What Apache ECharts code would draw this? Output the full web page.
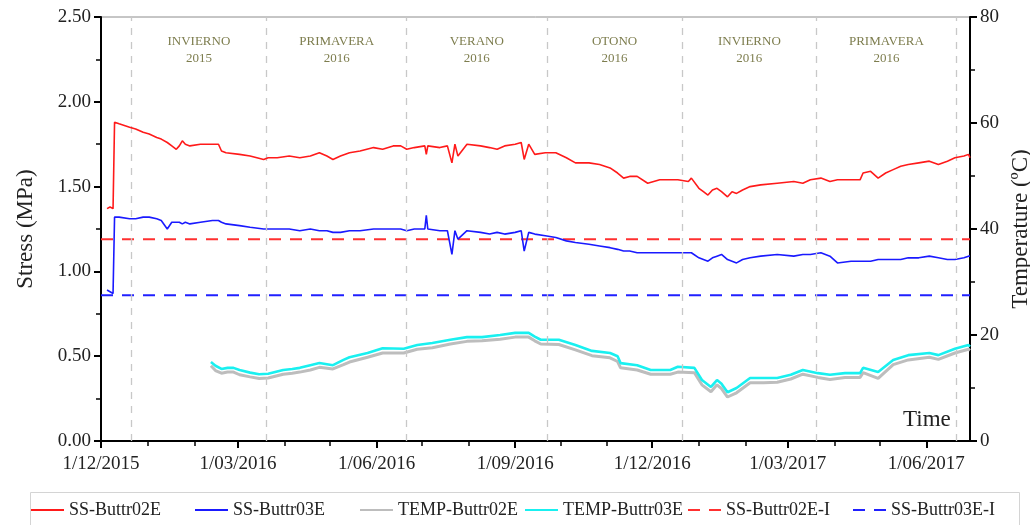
<!DOCTYPE html>
<html>
<head>
    <meta charset="utf-8">
    <title>Stress / Temperature</title>
    <script src="https://cdn.jsdelivr.net/npm/echarts@6/dist/echarts.min.js"></script>
    <style>
        html, body { margin: 0; padding: 0; background: #fff; }
        #chart { width: 1030px; height: 525px; }
    </style>
</head>
<body>
    <div id="chart"></div>

    <script>
    // fechas de las series de tension
    const stressDates = [
        '2015-12-05','2015-12-07','2015-12-09','2015-12-10','2015-12-13','2015-12-20','2015-12-24','2015-12-29',
        '2016-01-02','2016-01-07','2016-01-10','2016-01-14','2016-01-17','2016-01-20','2016-01-22','2016-01-24','2016-01-26','2016-01-29',
        '2016-02-05','2016-02-13','2016-02-17','2016-02-19','2016-02-22',
        '2016-03-02','2016-03-09','2016-03-18','2016-03-21','2016-03-27',
        '2016-04-04','2016-04-11','2016-04-18','2016-04-24','2016-04-29',
        '2016-05-03','2016-05-08','2016-05-14','2016-05-21','2016-05-30',
        '2016-06-05','2016-06-12','2016-06-17','2016-06-21','2016-06-26',
        '2016-07-03','2016-07-04','2016-07-05','2016-07-13','2016-07-18','2016-07-21','2016-07-23','2016-07-25','2016-07-31',
        '2016-08-09','2016-08-15','2016-08-20','2016-08-25',
        '2016-09-01','2016-09-05','2016-09-07','2016-09-10','2016-09-14','2016-09-21','2016-09-28',
        '2016-10-05','2016-10-11','2016-10-20','2016-10-27',
        '2016-11-03','2016-11-08','2016-11-12','2016-11-16','2016-11-21','2016-11-28',
        '2016-12-06','2016-12-18','2016-12-25','2016-12-27',
        '2017-01-01','2017-01-04','2017-01-07','2017-01-10','2017-01-13','2017-01-16','2017-01-20','2017-01-23','2017-01-26','2017-01-30',
        '2017-02-04','2017-02-11','2017-02-22',
        '2017-03-05','2017-03-11','2017-03-16','2017-03-23','2017-03-29',
        '2017-04-03','2017-04-12','2017-04-18','2017-04-20','2017-04-25','2017-04-30',
        '2017-05-05','2017-05-10','2017-05-15','2017-05-20','2017-05-27',
        '2017-06-03','2017-06-09','2017-06-15','2017-06-20','2017-06-26','2017-06-29','2017-06-30'
    ];
    const ssButtr02E = [
        1.37,1.38,1.37,1.88,1.87,1.85,1.84,1.82,
        1.81,1.79,1.78,1.76,1.74,1.72,1.74,1.77,1.75,1.74,
        1.75,1.75,1.75,1.71,1.70,
        1.69,1.68,1.66,1.67,1.67,
        1.68,1.67,1.68,1.70,1.68,
        1.66,1.68,1.70,1.71,1.73,
        1.72,1.74,1.74,1.72,1.73,
        1.74,1.69,1.74,1.73,1.74,1.64,1.75,1.68,1.75,
        1.74,1.73,1.72,1.74,
        1.75,1.76,1.66,1.75,1.69,1.70,1.70,
        1.67,1.64,1.64,1.63,
        1.61,1.58,1.55,1.56,1.56,1.52,
        1.54,1.54,1.53,1.55,
        1.49,1.47,1.45,1.48,1.49,1.47,1.44,1.47,1.46,1.48,
        1.50,1.51,1.52,
        1.53,1.52,1.54,1.55,1.53,
        1.54,1.54,1.54,1.58,1.59,1.55,
        1.58,1.60,1.62,1.63,1.64,
        1.65,1.63,1.65,1.67,1.68,1.69,1.67
    ];
    const ssButtr03E = [
        0.89,0.88,0.87,1.32,1.32,1.31,1.31,1.32,
        1.32,1.31,1.30,1.25,1.29,1.29,1.29,1.28,1.29,1.28,
        1.29,1.30,1.30,1.29,1.28,
        1.27,1.26,1.25,1.25,1.25,
        1.25,1.24,1.25,1.24,1.24,
        1.23,1.23,1.24,1.24,1.25,
        1.25,1.25,1.25,1.24,1.25,
        1.25,1.33,1.25,1.24,1.24,1.10,1.24,1.19,1.24,
        1.23,1.22,1.23,1.22,
        1.23,1.24,1.12,1.23,1.22,1.21,1.20,
        1.18,1.17,1.16,1.15,
        1.14,1.13,1.12,1.12,1.11,1.11,
        1.11,1.11,1.11,1.11,
        1.08,1.07,1.06,1.08,1.09,1.10,1.07,1.06,1.05,1.07,
        1.08,1.09,1.10,
        1.09,1.10,1.10,1.11,1.09,
        1.05,1.06,1.06,1.06,1.06,1.07,
        1.07,1.07,1.07,1.08,1.08,
        1.09,1.08,1.07,1.07,1.08,1.09,1.09
    ];

    // temperaturas (eje derecho)
    const tempDates = [
        '2016-02-12','2016-02-15','2016-02-19','2016-02-23','2016-02-27','2016-03-02','2016-03-09','2016-03-15','2016-03-21','2016-03-31',
        '2016-04-06','2016-04-11','2016-04-18','2016-04-24','2016-05-03','2016-05-10','2016-05-14','2016-05-26','2016-06-05','2016-06-19',
        '2016-06-28','2016-07-08','2016-07-20','2016-07-31','2016-08-10','2016-08-22','2016-09-01','2016-09-10','2016-09-14','2016-09-18',
        '2016-09-30','2016-10-11','2016-10-22','2016-11-03','2016-11-08','2016-11-10','2016-11-21','2016-11-30','2016-12-13','2016-12-18',
        '2016-12-29','2017-01-03','2017-01-09','2017-01-13','2017-01-16','2017-01-20','2017-01-26','2017-02-04','2017-02-13','2017-02-22',
        '2017-03-03','2017-03-11','2017-03-21','2017-03-29','2017-04-08','2017-04-18','2017-04-20','2017-04-30','2017-05-10','2017-05-20',
        '2017-06-03','2017-06-09','2017-06-20','2017-06-29','2017-06-30'
    ];
    const tempButtr02E = [
        14.2,13.3,12.8,13.0,13.0,12.5,12.1,11.8,11.9,12.6,
        12.8,13.0,13.4,13.9,13.6,14.4,14.9,15.8,16.6,16.6,
        17.3,17.6,18.3,18.8,18.9,19.2,19.6,19.6,18.9,18.3,
        18.2,17.2,16.1,15.7,15.0,13.8,13.4,12.6,12.6,13.0,
        12.9,10.6,9.3,10.6,9.9,8.3,9.1,11.0,11.0,11.1,
        11.7,12.6,12.0,11.6,12.0,12.0,12.9,11.8,14.4,15.3,
        15.8,15.4,16.6,17.3,17.1
    ];
    const tempButtr03E = [
        14.9,14.2,13.6,13.8,13.8,13.4,12.9,12.6,12.7,13.4,
        13.6,13.8,14.3,14.7,14.3,15.3,15.8,16.6,17.5,17.4,
        18.1,18.5,19.1,19.6,19.6,20.0,20.4,20.4,19.7,19.1,
        19.1,18.1,17.0,16.6,16.0,14.7,14.3,13.4,13.4,14.0,
        13.8,11.5,10.2,11.5,10.8,9.2,10.0,11.9,11.9,11.9,
        12.5,13.4,12.8,12.5,12.8,12.8,13.8,13.0,15.3,16.2,
        16.6,16.2,17.4,18.1,17.8
    ];

    // valores iniciales (lineas discontinuas)
    const initialNames = ['SS-Buttr02E-I', 'SS-Buttr03E-I'];
    const initialValues = [1.19, 0.86];

    // estaciones
    const seasonBounds = ['2015-12-21','2016-03-20','2016-06-21','2016-09-22','2016-12-21','2017-03-20','2017-06-21'];
    const seasonNames = ['INVIERNO','PRIMAVERA','VERANO','OTONO','INVIERNO','PRIMAVERA'];
    const seasonYears = ['2015','2016','2016','2016','2016','2016'];

    // ejes
    const xMin = '2015-12-01';
    const xMax = '2017-06-30';
    const xLabelDates = ['2015-12-01','2016-03-01','2016-06-01','2016-09-01','2016-12-01','2017-03-01','2017-06-01'];
    const xMonthDates = [
        '2015-12-01','2016-01-01','2016-02-01','2016-03-01','2016-04-01','2016-05-01','2016-06-01','2016-07-01',
        '2016-08-01','2016-09-01','2016-10-01','2016-11-01','2016-12-01','2017-01-01','2017-02-01','2017-03-01',
        '2017-04-01','2017-05-01','2017-06-01'
    ];

    const FONT = 'Liberation Serif';

    function toTs(s) {
        const p = s.split('-').map(Number);
        return new Date(p[0], p[1] - 1, p[2]).getTime();
    }
    function pairs(dates, vals) {
        return dates.map((d, i) => [toTs(d), vals[i]]);
    }
    function fmtDate(v) {
        const d = new Date(v);
        const m = d.getMonth() + 1;
        return d.getDate() + '/' + (m < 10 ? '0' + m : m) + '/' + d.getFullYear();
    }

    const seasonAreas = seasonNames.map((n, i) => [
        { xAxis: toTs(seasonBounds[i]), name: n + '\n' + seasonYears[i] },
        { xAxis: toTs(seasonBounds[i + 1]) }
    ]);

    const chart = echarts.init(document.getElementById('chart'), null, { renderer: 'canvas' });

    const legendItems = [
        { name: 'SS-Buttr02E', left: 30 },
        { name: 'SS-Buttr03E', left: 194 },
        { name: 'TEMP-Buttr02E', left: 359 },
        { name: 'TEMP-Buttr03E', left: 524 },
        { name: 'SS-Buttr02E-I', left: 687 },
        { name: 'SS-Buttr03E-I', left: 852 }
    ];

    const option = {
        backgroundColor: '#fff',
        animation: false,
        textStyle: { fontFamily: FONT },
        grid: {
            left: 101, right: 60, top: 17, bottom: 84,
            outerBoundsMode: 'none',
            containLabel: false,
            show: true, borderColor: '#8c8c8c', borderWidth: 1
        },
        legend: legendItems.map(it => ({
            data: [it.name],
            left: it.left,
            top: 501,
            itemWidth: 33,
            itemHeight: 2,
            padding: 0,
            selectedMode: false,
            itemStyle: { color: 'rgba(0,0,0,0)', borderWidth: 0 },
            textStyle: { fontFamily: FONT, fontSize: 18, color: '#222' }
        })),
        graphic: [
            {
                type: 'rect',
                shape: { x: 30.5, y: 492.5, width: 989, height: 50 },
                style: { fill: 'none', stroke: '#d4d4d4', lineWidth: 1 },
                silent: true
            },
            {
                type: 'text',
                left: 903,
                top: 408,
                style: { text: 'Time', font: '23px "Liberation Serif"', fill: '#222' },
                silent: true
            }
        ],
        xAxis: [
            {
                type: 'value',
                min: toTs(xMin),
                max: toTs(xMax),
                axisLine: { lineStyle: { color: '#000', width: 2 } },
                axisTick: {
                    show: true, length: 7, inside: false,
                    customValues: xLabelDates.map(toTs),
                    lineStyle: { color: '#000', width: 2 }
                },
                axisLabel: {
                    customValues: xLabelDates.map(toTs),
                    formatter: fmtDate,
                    fontFamily: FONT, fontSize: 19, color: '#222', margin: 14,
                    showMinLabel: true, showMaxLabel: true, hideOverlap: false
                },
                splitLine: { show: false }
            },
            {
                type: 'value',
                position: 'bottom',
                min: toTs(xMin),
                max: toTs(xMax),
                axisLine: { show: false },
                axisTick: {
                    show: true, length: 5, inside: false,
                    customValues: xMonthDates.map(toTs),
                    lineStyle: { color: '#000', width: 1.5 }
                },
                axisLabel: { show: false },
                splitLine: { show: false }
            }
        ],
        yAxis: [
            {
                type: 'value',
                min: 0, max: 2.5, interval: 0.5,
                name: 'Stress (MPa)',
                nameLocation: 'middle',
                nameRotate: 90,
                nameGap: 64,
                nameTextStyle: { fontFamily: FONT, fontSize: 23, color: '#222' },
                axisLine: { show: true, lineStyle: { color: '#000', width: 2 } },
                axisTick: { show: true, length: 7, lineStyle: { color: '#000', width: 2 } },
                minorTick: { show: true, splitNumber: 2, length: 5, lineStyle: { color: '#000', width: 1.5 } },
                axisLabel: {
                    formatter: v => v.toFixed(2),
                    fontFamily: FONT, fontSize: 19, color: '#222', margin: 10
                },
                splitLine: { show: false }
            },
            {
                type: 'value',
                position: 'right',
                min: 0, max: 80, interval: 20,
                name: 'Temperature (ºC)',
                nameLocation: 'middle',
                nameRotate: 90,
                nameGap: 34,
                nameTextStyle: { fontFamily: FONT, fontSize: 23, color: '#222' },
                axisLine: { show: true, lineStyle: { color: '#000', width: 2 } },
                axisTick: { show: true, length: 7, lineStyle: { color: '#000', width: 2 } },
                minorTick: { show: true, splitNumber: 2, length: 5, lineStyle: { color: '#000', width: 1.5 } },
                axisLabel: { fontFamily: FONT, fontSize: 19, color: '#222', margin: 10 },
                splitLine: { show: false }
            }
        ],
        series: [
            {
                name: 'SS-Buttr02E',
                type: 'line',
                data: pairs(stressDates, ssButtr02E),
                symbol: 'none',
                lineStyle: { color: '#ff1a1a', width: 1.6 },
                itemStyle: { color: '#ff1a1a' },
                z: 5,
                markLine: {
                    silent: true,
                    symbol: 'none',
                    label: { show: false },
                    lineStyle: { color: '#c8c8c8', type: [7, 7], width: 1.3 },
                    data: seasonBounds.map(d => ({ xAxis: toTs(d) }))
                },
                markArea: {
                    silent: true,
                    itemStyle: { color: 'rgba(0,0,0,0)' },
                    label: {
                        position: 'insideTop',
                        distance: 16,
                        color: '#7d7d4e',
                        fontFamily: FONT,
                        fontSize: 13,
                        lineHeight: 17,
                        align: 'center'
                    },
                    data: seasonAreas
                }
            },
            {
                name: 'SS-Buttr03E',
                type: 'line',
                data: pairs(stressDates, ssButtr03E),
                symbol: 'none',
                lineStyle: { color: '#1a1aff', width: 1.6 },
                itemStyle: { color: '#1a1aff' },
                z: 4
            },
            {
                name: 'TEMP-Buttr02E',
                type: 'line',
                yAxisIndex: 1,
                data: pairs(tempDates, tempButtr02E),
                symbol: 'none',
                lineStyle: { color: '#bdbdbd', width: 3 },
                itemStyle: { color: '#bdbdbd' },
                z: 2
            },
            {
                name: 'TEMP-Buttr03E',
                type: 'line',
                yAxisIndex: 1,
                data: pairs(tempDates, tempButtr03E),
                symbol: 'none',
                lineStyle: { color: '#19f0f0', width: 2.6 },
                itemStyle: { color: '#19f0f0' },
                z: 3
            },
            {
                name: initialNames[0],
                type: 'line',
                data: [[toTs(xMin), initialValues[0]], [toTs(xMax), initialValues[0]]],
                symbol: 'none',
                lineStyle: { color: '#ff3030', width: 2, type: [12, 9] },
                itemStyle: { color: '#ff3030' },
                z: 3
            },
            {
                name: initialNames[1],
                type: 'line',
                data: [[toTs(xMin), initialValues[1]], [toTs(xMax), initialValues[1]]],
                symbol: 'none',
                lineStyle: { color: '#2020ff', width: 2, type: [12, 9] },
                itemStyle: { color: '#2020ff' },
                z: 3
            }
        ]
    };

    chart.setOption(option);
    </script>
</body>
</html>
